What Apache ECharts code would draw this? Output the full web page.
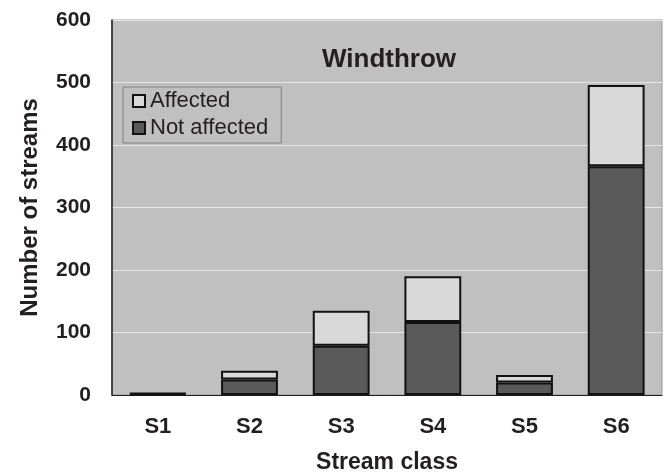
<!DOCTYPE html>
<html>
<head>
<meta charset="utf-8">
<script src="https://cdn.jsdelivr.net/npm/echarts@6/dist/echarts.min.js"></script>
<style>html,body{margin:0;padding:0;background:#fff;}#c{width:666px;height:474px;}</style>
</head>
<body>
<div id="c"></div>
<script>
var categories = ['S1', 'S2', 'S3', 'S4', 'S5', 'S6'];
var notAffected = [2, 25, 79, 117, 20, 366];
var affected = [1, 14, 56, 73, 12, 130];
var yTicks = [0, 100, 200, 300, 400, 500, 600];

var FONT = '"Liberation Sans", Arial, sans-serif';
var chart = echarts.init(document.getElementById('c'));
chart.setOption({
  animation: false,
  backgroundColor: '#ffffff',
  title: {
    text: 'Windthrow', left: 384, top: 42, textAlign: 'center',
    textStyle: {fontFamily: FONT, fontSize: 26, fontWeight: 'bold', color: '#231f20'}
  },
  legend: {
    data: ['Affected', 'Not affected'],
    orient: 'vertical', left: 123, top: 87,
    itemWidth: 12, itemHeight: 12, itemGap: 5,
    padding: [3, 13, 4, 9],
    borderColor: '#808080', borderWidth: 1,
    backgroundColor: '#c0c0c0',
    textStyle: {fontFamily: FONT, fontSize: 22, color: '#231f20'},
    icon: 'rect'
  },
  grid: {
    left: 112, right: 4, top: 20, bottom: 79,
    outerBoundsMode: 'none',
    show: true, backgroundColor: '#c0c0c0', borderColor: '#999999', borderWidth: 1
  },
  xAxis: {
    type: 'category', data: categories,
    name: 'Stream class', nameLocation: 'middle', nameGap: 56,
    nameTextStyle: {fontFamily: FONT, fontSize: 23, fontWeight: 'bold', color: '#231f20'},
    axisLine: {lineStyle: {color: '#231f20', width: 1}},
    axisTick: {show: false},
    axisLabel: {fontFamily: FONT, fontSize: 22, fontWeight: 'bold', color: '#231f20', margin: 21}
  },
  yAxis: {
    type: 'value', min: 0, max: 600, interval: 100,
    name: 'Number of streams', nameLocation: 'middle', nameGap: 70,
    nameTextStyle: {fontFamily: FONT, fontSize: 24, fontWeight: 'bold', color: '#231f20'},
    axisLine: {show: true, lineStyle: {color: '#231f20', width: 1.5}},
    axisTick: {show: false},
    splitLine: {lineStyle: {color: '#e6e6e6', width: 1}},
    axisLabel: {fontFamily: FONT, fontSize: 21, fontWeight: 'bold', color: '#231f20', margin: 21,
      formatter: function (v) { return yTicks.indexOf(v) >= 0 ? String(v) : ''; }}
  },
  series: [
    {
      name: 'Not affected', type: 'bar', stack: 's', data: notAffected, barWidth: '62%',
      itemStyle: {color: '#5a5a5a', borderColor: '#111111', borderWidth: 2}
    },
    {
      name: 'Affected', type: 'bar', stack: 's', data: affected, barWidth: '62%',
      itemStyle: {color: '#d9d9d9', borderColor: '#111111', borderWidth: 2}
    }
  ]
});
</script>
</body>
</html>
